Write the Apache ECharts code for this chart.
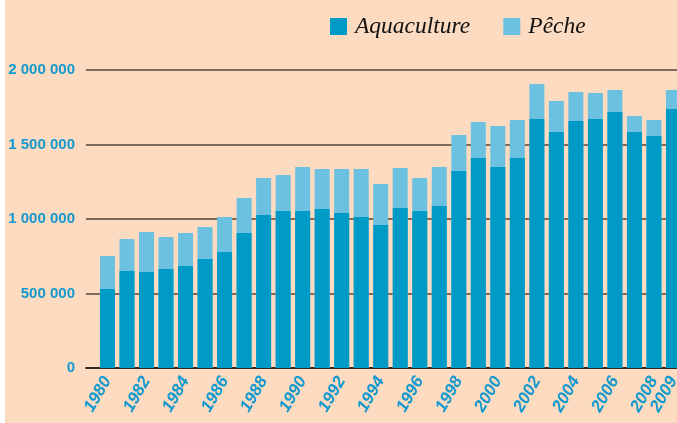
<!DOCTYPE html>
<html>
<head>
<meta charset="utf-8">
<script src="https://cdn.jsdelivr.net/npm/echarts@6/dist/echarts.min.js"></script>
<style>
  html, body { margin: 0; padding: 0; background: #ffffff; }
  #chart {
    width: 677px; height: 423px;
    background: linear-gradient(to right, #ffffff 0 5px, #fddbc1 5px);
  }
</style>
</head>
<body>
<div id="chart"></div>
<script>
// Production annuelle (tonnes), 1980-2009
const years = [1980, 1981, 1982, 1983, 1984, 1985, 1986, 1987, 1988, 1989,
               1990, 1991, 1992, 1993, 1994, 1995, 1996, 1997, 1998, 1999,
               2000, 2001, 2002, 2003, 2004, 2005, 2006, 2007, 2008, 2009];

const aquaculture = [530000, 651000, 644000, 664000, 685000, 732000, 779000, 906000, 1027000, 1054000,
                     1054000, 1067000, 1040000, 1013000, 960000, 1074000, 1054000, 1087000, 1322000, 1409000,
                     1349000, 1409000, 1671000, 1584000, 1658000, 1671000, 1718000, 1584000, 1557000, 1738000];

const peche = [222000, 215000, 269000, 215000, 221000, 214000, 234000, 235000, 248000, 241000,
               295000, 269000, 296000, 323000, 275000, 268000, 221000, 262000, 242000, 242000,
               275000, 255000, 235000, 208000, 194000, 175000, 148000, 107000, 107000, 128000];

// Axis labels
const yearLabels = [1980, 1982, 1984, 1986, 1988, 1990, 1992, 1994, 1996, 1998,
                    2000, 2002, 2004, 2006, 2008, 2009];
const valueLabels = ['0', '500 000', '1 000 000', '1 500 000', '2 000 000'];

const BLUE_TEXT = '#1499cf';
const labelFont = '"Liberation Sans", Arial, sans-serif';

// The fishing bar sits on top of aquaculture: it spans from 0 to the
// combined total and the aquaculture bar is painted over its lower part.
const aquaPoints = years.map((y, i) => [y, aquaculture[i]]);
const totalPoints = years.map((y, i) => [y, aquaculture[i] + peche[i]]);

const chart = echarts.init(document.getElementById('chart'), null, { renderer: 'canvas' });

chart.setOption({
  backgroundColor: 'transparent',
  animation: false,
  legend: {
    left: 325,
    top: 10,
    padding: 5,
    itemWidth: 17,
    itemHeight: 17,
    itemGap: 33,
    icon: 'rect',
    textStyle: {
      fontFamily: '"Liberation Serif", "DejaVu Serif", serif',
      fontStyle: 'italic',
      fontSize: 23.5,
      color: '#111111',
      padding: [0, 0, 0, 3]
    },
    data: ['Aquaculture', 'Pêche']
  },
  grid: {
    left: 86, right: 0, top: 70, bottom: 55,
    containLabel: false,
    outerBoundsMode: 'none'
  },
  xAxis: {
    type: 'value',
    min: 1978.9,
    max: 2009.18,
    offset: 4,
    splitLine: { show: false },
    axisTick: { show: false },
    axisLine: { show: true, lineStyle: { color: '#2e2a28', width: 1.8 } },
    axisLabel: {
      customValues: yearLabels,
      rotate: 60,
      margin: 6,
      color: BLUE_TEXT,
      fontFamily: labelFont,
      fontWeight: 'bold',
      fontStyle: 'italic',
      fontSize: 17,
      formatter: v => String(v)
    }
  },
  yAxis: {
    type: 'value',
    min: 0,
    max: 2000000,
    interval: 500000,
    axisLine: { show: false },
    axisTick: { show: false },
    splitLine: {
      show: true,
      showMinLine: false,
      lineStyle: { color: '#54463d', width: 1.6 }
    },
    axisLabel: {
      margin: 11,
      color: BLUE_TEXT,
      fontFamily: labelFont,
      fontWeight: 'bold',
      fontSize: 15,
      formatter: v => valueLabels[Math.round(v / 500000)]
    }
  },
  series: [
    {
      name: 'Pêche',
      type: 'bar',
      barWidth: 15,
      barGap: '-100%',
      itemStyle: { color: '#6bc1df' },
      data: totalPoints
    },
    {
      name: 'Aquaculture',
      type: 'bar',
      barWidth: 15,
      barGap: '-100%',
      itemStyle: { color: '#009ac7' },
      data: aquaPoints
    }
  ]
});
</script>
</body>
</html>
